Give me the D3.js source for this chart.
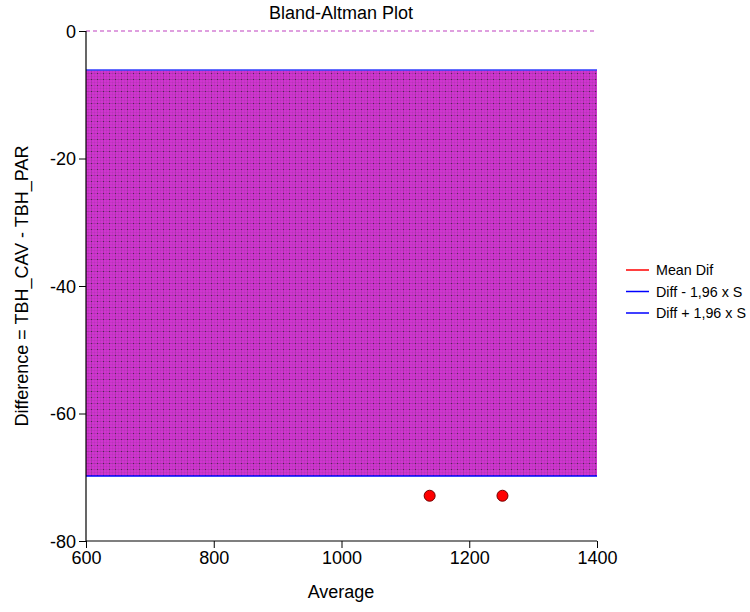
<!DOCTYPE html>
<html><head><meta charset="utf-8">
<script src="https://cdn.jsdelivr.net/npm/d3@7"></script>
<style>body{margin:0;background:#fff}svg{display:block}text{font-family:"Liberation Sans",Arial,sans-serif}</style>
</head><body><svg id="c" width="750" height="612"></svg>
<script>
const xTicks = [600, 800, 1000, 1200, 1400];
const yTicks = [0, -20, -40, -60, -80];
const averages = [1138, 1252];
const differences = [-72.9, -72.9];
const limitLower = -69.8;
const limitUpper = -6.1;
const zeroLine = 0;
const legendLabels = ["Mean Dif", "Diff - 1,96 x S", "Diff + 1,96 x S"];
const legendColors = ["#ff0000", "#0000ff", "#0000ff"];

const svg = d3.select("#c");
const m = {l: 86, r: 597, t: 31, b: 541};
const x = d3.scaleLinear().domain([600, 1400]).range([m.l, m.r]);
const y = d3.scaleLinear().domain([-80, 0]).range([m.b, m.t]);

// pattern
const defs = svg.append("defs");
const pat = defs.append("pattern").attr("id", "hatch").attr("patternUnits", "userSpaceOnUse")
  .attr("width", 12).attr("height", 12);
pat.append("rect").attr("width", 12).attr("height", 12).attr("fill", "#d035d0");
[[1,0.3],[4,0.15],[7,0.4],[10,0.15]].forEach(([p,o]) => {
  pat.append("rect").attr("x", p).attr("y", 0).attr("width", 1).attr("height", 12).attr("fill", "#333").attr("opacity", o*0.5);
  pat.append("rect").attr("x", 0).attr("y", p).attr("width", 12).attr("height", 1).attr("fill", "#333").attr("opacity", o*0.5);
});
[[1,1],[7,7],[7,1],[1,7]].forEach(([a,b]) => {
  pat.append("rect").attr("x", a).attr("y", b).attr("width", 1).attr("height", 1).attr("fill", "#111").attr("opacity", 0.5);
});

// band
svg.append("rect").attr("x", x(600)).attr("y", y(limitUpper))
  .attr("width", x(1400) - x(600)).attr("height", y(limitLower) - y(limitUpper))
  .attr("fill", "url(#hatch)");
svg.append("line").attr("x1", x(600)).attr("x2", x(1400)).attr("y1", y(limitUpper)).attr("y2", y(limitUpper))
  .attr("stroke", "#3344ff").attr("stroke-width", 1.5);
svg.append("line").attr("x1", x(600)).attr("x2", x(1400)).attr("y1", y(limitLower)).attr("y2", y(limitLower))
  .attr("stroke", "#0000ff").attr("stroke-width", 1.5);

// zero line
svg.append("line").attr("x1", x(600)).attr("x2", x(1400)).attr("y1", y(zeroLine)).attr("y2", y(zeroLine))
  .attr("stroke", "#c040c0").attr("stroke-dasharray", "4,3").attr("stroke-width", 1.2);

// axes
const xa = svg.append("g").attr("transform", `translate(0,${m.b})`)
  .call(d3.axisBottom(x).tickValues(xTicks).tickSize(7).tickPadding(3).tickFormat(d3.format("d")));
const ya = svg.append("g").attr("transform", `translate(${m.l},0)`)
  .call(d3.axisLeft(y).tickValues(yTicks).tickSize(7).tickPadding(3).tickFormat(d => d === 0 ? "0" : "-" + Math.abs(d)));
[xa, ya].forEach(g => {
  g.select(".domain").attr("stroke", "#000").attr("stroke-width", 1.2);
  g.selectAll(".tick line").attr("stroke", "#000");
  g.selectAll("text").attr("font-size", 18).attr("fill", "#000").style("font-family", '"Liberation Sans",Arial,sans-serif');
});
xa.select(".domain").attr("d", `M${m.l},0H${m.r}`);
ya.select(".domain").attr("d", `M0,${m.b}V${m.t}`);
ya.selectAll(".tick text").attr("dy", "0.35em");

// points
svg.selectAll("circle.pt").data(averages.map((a, i) => [a, differences[i]])).join("circle")
  .attr("class", "pt").attr("cx", d => x(d[0])).attr("cy", d => y(d[1])).attr("r", 5.5)
  .attr("fill", "#ff0000").attr("stroke", "#700000").attr("stroke-width", 1);

// title & labels
svg.append("text").attr("x", 341).attr("y", 19).attr("text-anchor", "middle").attr("font-size", 18).text("Bland-Altman Plot");
svg.append("text").attr("x", 341).attr("y", 598).attr("text-anchor", "middle").attr("font-size", 18).text("Average");
svg.append("text").attr("transform", "translate(28,286) rotate(-90)").attr("text-anchor", "middle").attr("font-size", 18)
  .text("Difference = TBH_CAV - TBH_PAR");

// legend
const lg = svg.append("g");
legendLabels.forEach((t, i) => {
  const yy = 270 + i * 21.5;
  lg.append("line").attr("x1", 626).attr("x2", 649).attr("y1", yy).attr("y2", yy).attr("stroke", legendColors[i]).attr("stroke-width", 1.5);
  lg.append("text").attr("x", 656).attr("y", yy + 5).attr("font-size", 14.3).text(t);
});
</script></body></html>
